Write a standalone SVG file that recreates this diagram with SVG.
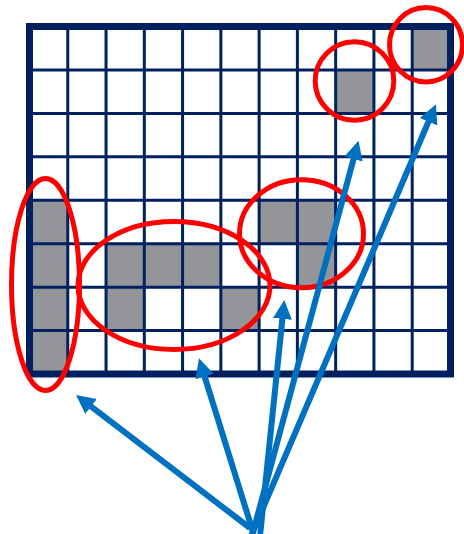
<svg xmlns="http://www.w3.org/2000/svg" width="464" height="534" viewBox="0 0 464 534">
  <style>
    .cell { fill: #939598; }
    .gl { stroke: #002060; stroke-width: 3; fill: none; }
    .border { stroke: #002060; stroke-width: 7; fill: none; }
    .ring { stroke: #FF0000; stroke-width: 5; fill: none; }
    .arrow { stroke: #0070C0; stroke-width: 6; fill: none; marker-end: url(#head); }
  </style>
  <defs>
    <marker id="head" markerUnits="userSpaceOnUse" markerWidth="20" markerHeight="20" viewBox="0 -10 20 20" refX="1" refY="0" orient="auto">
      <path d="M0,-9.5 L19,0 L0,9.5 z" fill="#0070C0"/>
    </marker>
  </defs>
  <rect width="464" height="534" fill="#ffffff"/>
  <g id="grid">
    <g id="cells">
      <rect class="cell" x="412.2" y="26.5" width="38.27" height="43.44"/>
      <rect class="cell" x="335.66" y="69.94" width="38.27" height="43.44"/>
      <rect class="cell" x="29.5" y="200.26" width="38.27" height="43.44"/>
      <rect class="cell" x="29.5" y="243.7" width="38.27" height="43.44"/>
      <rect class="cell" x="29.5" y="287.14" width="38.27" height="43.44"/>
      <rect class="cell" x="29.5" y="330.58" width="38.27" height="43.44"/>
      <rect class="cell" x="106.04" y="243.7" width="38.27" height="43.44"/>
      <rect class="cell" x="144.31" y="243.7" width="38.27" height="43.44"/>
      <rect class="cell" x="182.58" y="243.7" width="38.27" height="43.44"/>
      <rect class="cell" x="106.04" y="287.14" width="38.27" height="43.44"/>
      <rect class="cell" x="220.85" y="287.14" width="38.27" height="43.44"/>
      <rect class="cell" x="259.12" y="200.26" width="38.27" height="43.44"/>
      <rect class="cell" x="297.39" y="200.26" width="38.27" height="43.44"/>
      <rect class="cell" x="297.39" y="243.7" width="38.27" height="43.44"/>
    </g>
    <path class="gl" d="M67.77,26.5V374 M106.04,26.5V374 M144.31,26.5V374 M182.58,26.5V374 M220.85,26.5V374 M259.12,26.5V374 M297.39,26.5V374 M335.66,26.5V374 M373.93,26.5V374 M412.2,26.5V374 M29.5,69.94H450.5 M29.5,113.38H450.5 M29.5,156.82H450.5 M29.5,200.26H450.5 M29.5,243.7H450.5 M29.5,287.14H450.5 M29.5,330.58H450.5"/>
    <rect class="border" x="29.5" y="26.5" width="421" height="347.5"/>
  </g>
  <g id="rings">
    <ellipse id="ring-left" class="ring" cx="45.5" cy="284.5" rx="34" ry="106"/>
    <ellipse id="ring-middle" class="ring" cx="174" cy="285.5" rx="96" ry="64"/>
    <ellipse id="ring-l-shape" class="ring" cx="301.5" cy="233.7" rx="62" ry="54"/>
    <ellipse id="ring-small" class="ring" cx="354.5" cy="81" rx="39.3" ry="39.2"/>
    <ellipse id="ring-corner" class="ring" cx="426" cy="44.7" rx="36.5" ry="37.2"/>
  </g>
  <g id="connectors">
    <line class="arrow" x1="250" y1="528" x2="90.3" y2="405.9"/>
    <line class="arrow" x1="253" y1="532" x2="204.3" y2="375.5"/>
    <line class="arrow" x1="260" y1="536" x2="282.5" y2="317.9"/>
    <line class="arrow" x1="252" y1="536" x2="353.8" y2="158.1"/>
    <line class="arrow" x1="251" y1="536" x2="428.9" y2="120.8"/>
  </g>
</svg>
